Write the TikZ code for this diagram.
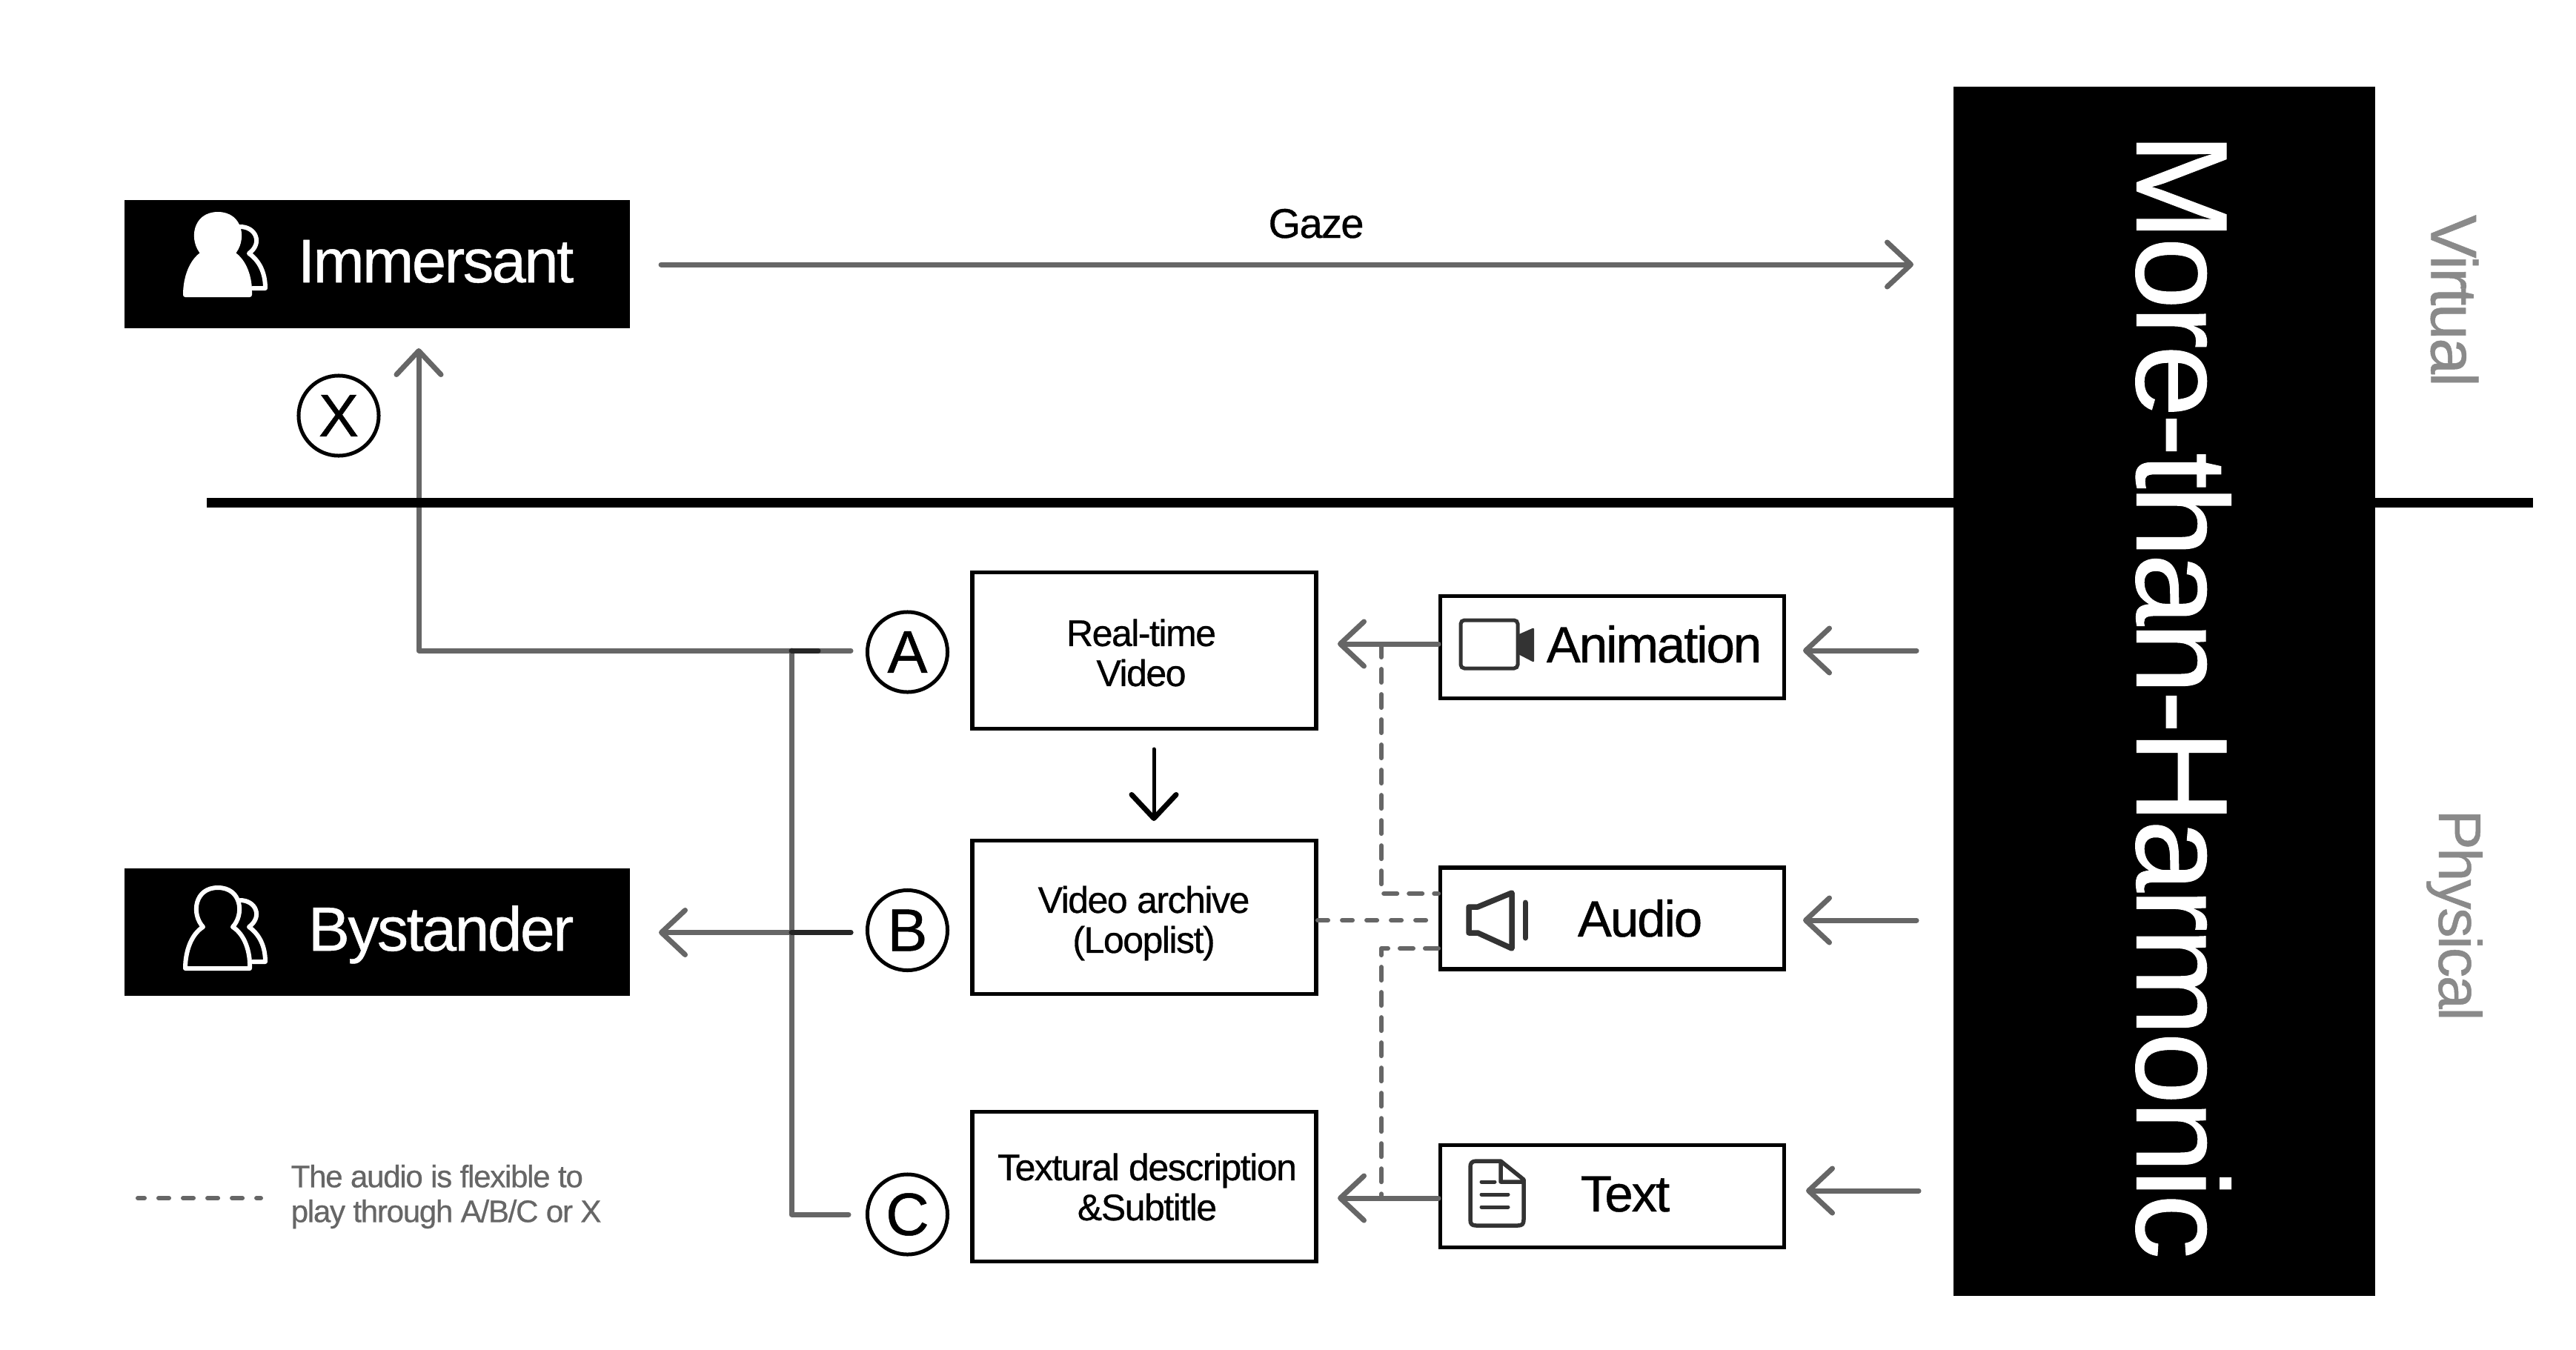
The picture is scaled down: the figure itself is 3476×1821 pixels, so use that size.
\documentclass[tikz,border=0pt]{standalone}
\usepackage{fontspec}
\setmainfont[LetterSpace=-3,FakeBold=0.6]{Liberation Sans}
\usetikzlibrary{arrows.meta}
\definecolor{linegrey}{HTML}{666666}
\definecolor{labelgrey}{HTML}{8A8A8A}
\definecolor{icondark}{HTML}{333333}
\newcommand{\px}[2]{\fontsize{\fpeval{#1*0.2845}}{\fpeval{#2*0.2845}}\selectfont}
\newcommand{\personshape}[2]{%
  \begin{scope}[shift={(0,#1)},draw=white,line width=0.06cm,line join=round,line cap=round]
    \draw[fill=#2] (274,342) .. controls (258,325) and (262,289) .. (294,289)
      .. controls (326,289) and (330,325) .. (314,342)
      .. controls (330,352) and (338,375) .. (337,398) -- (250,398)
      .. controls (250,375) and (258,352) .. (274,342) -- cycle;
    \draw (324,306) .. controls (345,306) and (355,328) .. (336,342)
      .. controls (350,352) and (358,368) .. (358,389) -- (341,389);
  \end{scope}}
\tikzset{
  x=0.01cm,y=-0.01cm,
  blackbox/.style={fill=black,draw=none,minimum width=6.82cm,inner sep=0},
  whitebox/.style={draw=black,line width=0.055cm,fill=white,inner sep=0},
  txt/.style={inner sep=0,anchor=base,text=black},
  boxtext/.style={inner sep=0,align=center,text=black,font=\px{50}{54}},
  conn/.style={draw=linegrey,line width=0.07cm,line cap=round,line join=round},
  tip/.style={-{Straight Barb[length=0.32cm,width=0.6cm,round,line width=0.07cm]}},
  dash line/.style={draw=linegrey,line width=0.06cm,line cap=round,line join=round,dash pattern=on 0.18cm off 0.16cm},
  short dash/.style={draw=linegrey,line width=0.06cm,line cap=round,dash pattern=on 0.14cm off 0.19cm},
  badge/.style={circle,draw=black,line width=0.05cm,fill=white,minimum size=1.08cm,inner sep=0,font=\px{81}{81}},
}
\begin{document}
\begin{tikzpicture}
\useasboundingbox (0,0) rectangle (3476,1821);
% free ends
\coordinate (gazeS) at (892,357);
\coordinate (gazeE) at (2582,357);
\coordinate (jA) at (565,878);
\coordinate (upE) at (565,470);
\coordinate (aS) at (1148,878);
\coordinate (aD) at (1104,878);
\coordinate (busT) at (1068,878);
\coordinate (busB) at (1068,1639);
\coordinate (cS) at (1145,1639);
\coordinate (bS) at (1148,1258.5);
\coordinate (bE) at (889,1258.5);
\coordinate (busM) at (1068,1258.5);
\coordinate (inAS) at (2586,878);
\coordinate (inAE) at (2433,878);
\coordinate (inBS) at (2586,1242);
\coordinate (inBE) at (2433,1242);
\coordinate (inCS) at (2589,1607);
\coordinate (inCE) at (2437,1607);
\coordinate (outAE) at (1805,869);
\coordinate (outCE) at (1805,1617);
\coordinate (outAS) at (1941,869);
\coordinate (outCS) at (1941,1617);
\coordinate (dnS) at (1557,1011);
\coordinate (dnE) at (1557,1108);
\coordinate (legS) at (186,1617);
\coordinate (legE) at (352,1617);
\coordinate (d1a) at (1864,869);
\coordinate (d1b) at (1864,1206);
\coordinate (d1c) at (1941,1206);
\coordinate (d2a) at (1778,1242);
\coordinate (d2b) at (1941,1242);
\coordinate (d3a) at (1941,1280);
\coordinate (d3b) at (1864,1280);
\coordinate (d3c) at (1864,1617);

% grey lines below the divider
\draw[conn,tip] (aS) -- (jA) -- (upE);
\draw[conn] (busT) -- (busB) -- (cS);
\draw[conn,tip] (bS) -- (bE);
\draw[draw=black!85,line width=0.07cm,line cap=round] (busM) -- (bS);
\draw[draw=black!85,line width=0.07cm,line cap=round] (busT) -- (aD);

% divider and big block
\coordinate (divL) at (279,678.5);
\coordinate (divR) at (3418,678.5);
\draw[black,line width=0.13cm] (divL) -- (divR);
\node[fill=black,inner sep=0,minimum width=5.69cm,minimum height=16.32cm] (mth) at (2920.5,933) {};
\node[inner sep=0,text=white,rotate=-90,font=\px{175.5}{175.5}] (mthlabel) at (2946,939) {More-than-Harmonic};

% actors
\node[blackbox,minimum height=1.73cm] (imm) at (509,356.5) {};
\node[blackbox,minimum height=1.71cm] (bys) at (509,1258) {};
\personshape{0}{white}
\personshape{909}{none}
\node[txt,text=white,font=\px{83}{83}] (immlabel) at (588,381) {Immersant};
\node[txt,text=white,font=\px{84}{84}] (byslabel) at (595,1283) {Bystander};

% gaze
\draw[conn,tip] (gazeS) -- (gazeE);
\node[txt,font=\px{56}{56}] (gazelabel) at (1776,321) {Gaze};

% badges
\node[badge] (X) at (457,561) {X};
\node[badge] (A) at (1224.5,880) {A};
\node[badge] (B) at (1224.5,1255.5) {B};
\node[badge] (C) at (1224.5,1639) {C};

% middle boxes
\node[whitebox,minimum width=4.64cm,minimum height=2.11cm] (rt) at (1544,878) {};
\node[whitebox,minimum width=4.64cm,minimum height=2.07cm] (va) at (1544,1238) {};
\node[whitebox,minimum width=4.64cm,minimum height=2.02cm] (td) at (1544,1601.5) {};
\node[boxtext] (rtlabel) at (1540,881) {Real-time\\Video};
\node[boxtext] (valabel) at (1543.5,1246) {Video archive\\(Looplist)};
\node[boxtext] (tdlabel) at (1548,1602) {Textural description\\\&Subtitle};
\draw[black,line width=0.05cm,line cap=round,tip] (dnS) -- (dnE);

% right boxes
\node[whitebox,minimum width=4.64cm,minimum height=1.38cm] (anim) at (2175.5,873.5) {};
\node[whitebox,minimum width=4.64cm,minimum height=1.37cm] (aud) at (2175.5,1239.5) {};
\node[whitebox,minimum width=4.64cm,minimum height=1.38cm] (text) at (2175.5,1614.5) {};
\node[txt,font=\px{69}{69}] (animlabel) at (2232,894) {Animation};
\node[txt,font=\px{69}{69}] (audlabel) at (2213,1264) {Audio};
\node[txt,font=\px{69}{69}] (textlabel) at (2193,1635) {Text};

% connectors on the right
\draw[conn,tip] (inAS) -- (inAE);
\draw[conn,tip] (inBS) -- (inBE);
\draw[conn,tip] (inCS) -- (inCE);
\draw[conn,tip] (outAS) -- (outAE);
\draw[conn,tip] (outCS) -- (outCE);
\draw[dash line] (d1a) -- (d1b) -- (d1c);
\draw[short dash] (d2a) -- (d2b);
\draw[dash line] (d3a) -- (d3b) -- (d3c);

% camera icon
\fill[icondark,rounded corners=0.02cm] (2045,858) -- (2070,847) -- (2070,894) -- (2045,881) -- cycle;
\draw[icondark,line width=0.05cm,rounded corners=0.05cm,fill=white] (1971,837) rectangle (2048,902);
% speaker icon
\draw[icondark,line width=0.075cm,line join=round,line cap=round] (1982,1224) -- (1994,1224) -- (2040,1205) -- (2040,1280) -- (1994,1259) -- (1982,1259) -- cycle;
\draw[icondark,line width=0.07cm,line cap=round] (2058,1218) -- (2058,1266);
% document icon
\draw[icondark,line width=0.055cm,line join=round,line cap=round] (2025,1567) -- (1992,1567) .. controls (1986,1567) and (1984,1570) .. (1984,1575) -- (1984,1646) .. controls (1984,1652) and (1986,1654) .. (1992,1654) -- (2048,1654) .. controls (2054,1654) and (2056,1652) .. (2056,1646) -- (2056,1592) -- (2025,1567) -- (2025,1595) -- (2056,1595);
\draw[icondark,line width=0.05cm,line cap=round] (1999,1595) -- (2017,1595);
\draw[icondark,line width=0.05cm,line cap=round] (1999,1612) -- (2035,1612);
\draw[icondark,line width=0.05cm,line cap=round] (1999,1629) -- (2035,1629);

% legend
\draw[short dash,dash phase=0.05cm] (legS) -- (legE);
\node[inner sep=0,anchor=west,align=left,text=linegrey,font=\px{42}{47}] (legend) at (392,1615) {The audio is flexible to\\play through A/B/C or X};

% side labels
\node[inner sep=0,rotate=-90,text=labelgrey,font=\px{88}{88}] (virtual) at (3312,406) {Virtual};
\node[inner sep=0,rotate=-90,text=labelgrey,font=\px{81}{81}] (physical) at (3312,1235) {Physical};
\end{tikzpicture}
\end{document}
